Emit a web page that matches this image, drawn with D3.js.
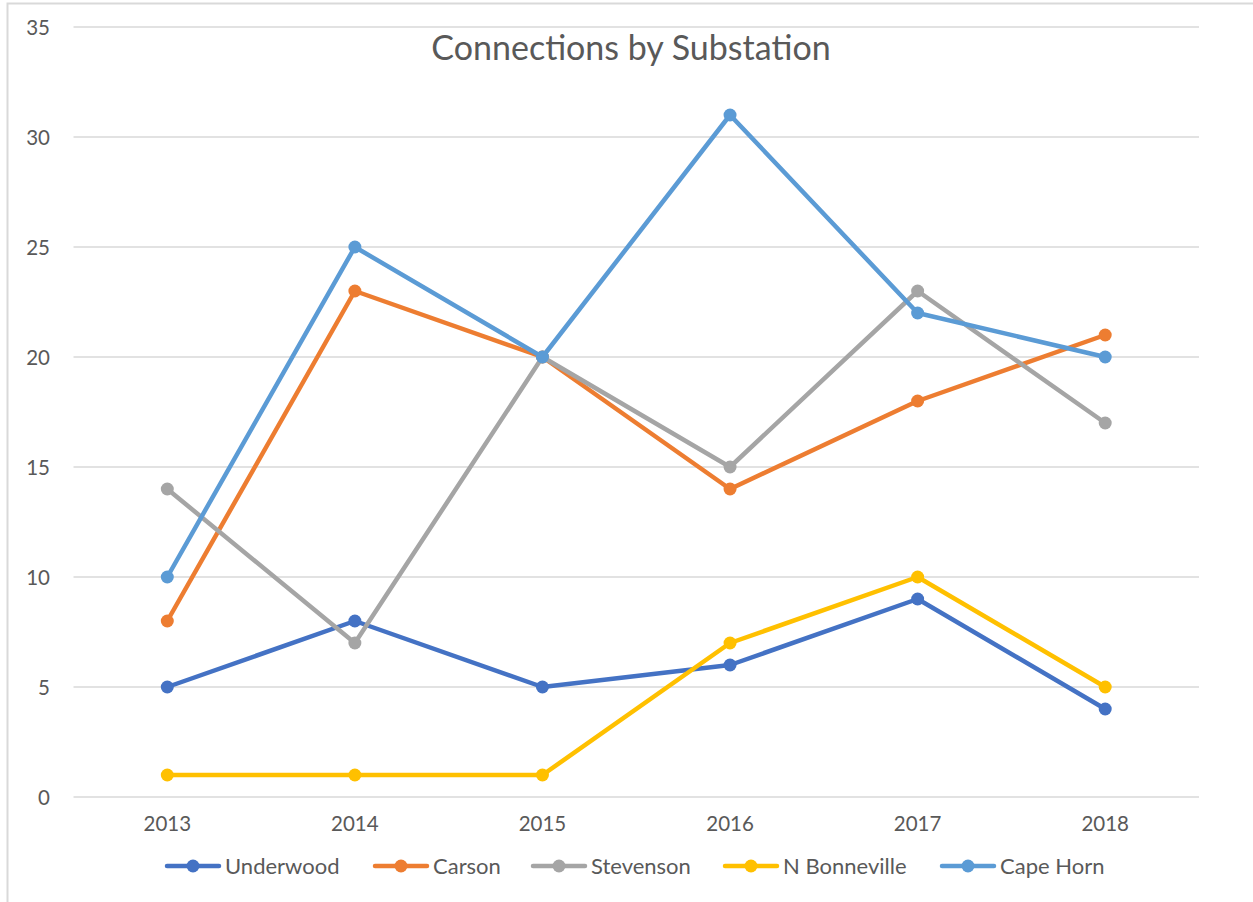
<!DOCTYPE html>
<html><head><meta charset="utf-8">
<script src="https://cdn.jsdelivr.net/npm/d3@7"></script>
<style>body{margin:0;background:#fff}svg{display:block}text{font-family:Lato,"Open Sans",sans-serif;fill:#595959}</style>
</head><body>
<svg id="c" width="1253" height="902"></svg>
<script>
const years = ["2013","2014","2015","2016","2017","2018"];
const seriesNames = ["Underwood","Carson","Stevenson","N Bonneville","Cape Horn"];
const underwood = [5,8,5,6,9,4];
const carson = [8,23,20,14,18,21];
const stevenson = [14,7,20,15,23,17];
const nBonneville = [1,1,1,7,10,5];
const capeHorn = [10,25,20,31,22,20];
const colors = ["#4472C4","#ED7D31","#A5A5A5","#FFC000","#5B9BD5"];
const yTicks = [0,5,10,15,20,25,30,35];
const title = "Connections by Substation";

const seriesData = [underwood, carson, stevenson, nBonneville, capeHorn];
const svg = d3.select("#c");

svg.append("path").attr("d","M7.5,902 V3.5 H1253").attr("fill","none").attr("stroke","#D9D9D9").attr("stroke-width",2);

const x = d3.scaleBand().domain(years).range([73.5,1199]);
const y = d3.scaleLinear().domain([0,35]).range([797,27]);

svg.append("g").selectAll("line").data(yTicks).join("line")
  .attr("x1",73.5).attr("x2",1199).attr("y1",d=>y(d)).attr("y2",d=>y(d))
  .attr("stroke","#D9D9D9").attr("stroke-width",1.5);

const yAxis = d3.axisLeft(y).tickValues(yTicks).tickSize(0).tickPadding(0);
const ya = svg.append("g").attr("transform","translate(50,0)").call(yAxis);
ya.select(".domain").remove();
ya.selectAll("text").attr("font-size",20.5).attr("fill","#595959").attr("font-family","Lato,'Open Sans',sans-serif").attr("text-anchor","end").attr("dy","0.35em");

const xAxis = d3.axisBottom(x).tickSize(0).tickPadding(0);
const xa = svg.append("g").attr("transform","translate(0,816)").call(xAxis);
xa.select(".domain").remove();
xa.selectAll("text").attr("font-size",20.5).attr("fill","#595959").attr("font-family","Lato,'Open Sans',sans-serif").attr("dy","0.72em");

svg.append("text").attr("x",631).attr("y",60).attr("text-anchor","middle")
  .attr("font-size",34).text(title);

const cx = d => x(d) + x.bandwidth()/2;
const line = d3.line().x((d,i)=>cx(years[i])).y(d=>y(d));

seriesData.forEach((vals,si)=>{
  const g = svg.append("g");
  g.append("path").datum(vals).attr("d",line).attr("fill","none")
    .attr("stroke",colors[si]).attr("stroke-width",4.5).attr("stroke-linejoin","round").attr("stroke-linecap","round");
  g.selectAll("circle").data(vals).join("circle")
    .attr("cx",(d,i)=>cx(years[i])).attr("cy",d=>y(d)).attr("r",6.5).attr("fill",colors[si]);
});

const legX = [167, 375, 533, 725, 942];
const lg = svg.append("g");
seriesNames.forEach((n,i)=>{
  const lx = legX[i];
  lg.append("line").attr("x1",lx).attr("x2",lx+52).attr("y1",866).attr("y2",866)
    .attr("stroke",colors[i]).attr("stroke-width",4.5).attr("stroke-linecap","round");
  lg.append("circle").attr("cx",lx+26).attr("cy",866).attr("r",6.5).attr("fill",colors[i]);
  lg.append("text").attr("x",lx+58).attr("y",866).attr("dy","0.35em").attr("font-size",22).text(n);
});
</script>
</body></html>
